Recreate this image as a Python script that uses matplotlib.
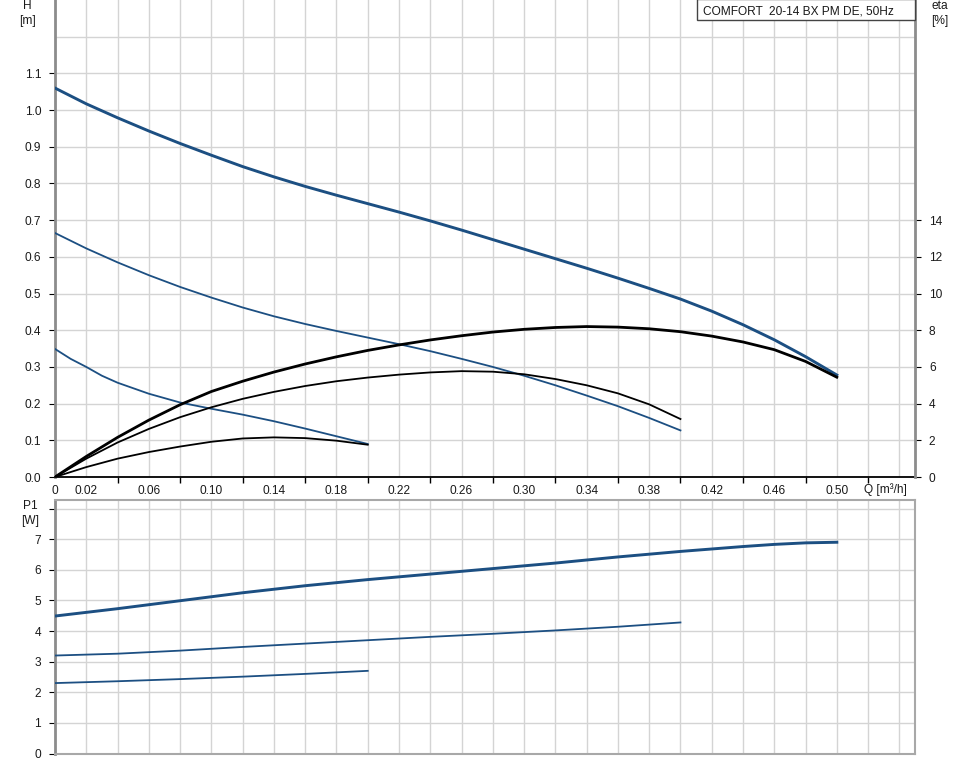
import numpy as np
import matplotlib
matplotlib.use("Agg")
import matplotlib.pyplot as plt
from matplotlib.patches import Rectangle

plt.rcParams['font.family'] = ['Liberation Sans', 'DejaVu Sans']

# ---------------- data ----------------
q_h1 = [0.00, 0.02, 0.04, 0.06, 0.08, 0.10, 0.12, 0.14, 0.16, 0.18, 0.20, 0.22, 0.24,
        0.26, 0.28, 0.30, 0.32, 0.34, 0.36, 0.38, 0.40, 0.42, 0.44, 0.46, 0.48, 0.50]
h1 = [1.060, 1.017, 0.979, 0.943, 0.909, 0.877, 0.846, 0.818, 0.792, 0.768, 0.745, 0.722, 0.698,
      0.673, 0.647, 0.621, 0.595, 0.569, 0.542, 0.514, 0.485, 0.452, 0.415, 0.374, 0.328, 0.278]
eta1 = [0.0, 1.12, 2.16, 3.1, 3.94, 4.66, 5.22, 5.72, 6.16, 6.55, 6.9, 7.2, 7.47,
        7.7, 7.9, 8.05, 8.15, 8.2, 8.17, 8.08, 7.92, 7.68, 7.36, 6.94, 6.3, 5.44]

q_h2 = [0.00, 0.02, 0.04, 0.06, 0.08, 0.10, 0.12, 0.14, 0.16, 0.18, 0.20,
        0.22, 0.24, 0.26, 0.28, 0.30, 0.32, 0.34, 0.36, 0.38, 0.40]
h2 = [0.665, 0.623, 0.585, 0.550, 0.518, 0.489, 0.462, 0.438, 0.417, 0.398, 0.380,
      0.362, 0.343, 0.322, 0.300, 0.276, 0.250, 0.222, 0.193, 0.161, 0.127]
eta2 = [0.0, 1.0, 1.88, 2.62, 3.26, 3.8, 4.26, 4.64, 4.96, 5.22, 5.42,
        5.58, 5.7, 5.77, 5.74, 5.6, 5.34, 5.0, 4.56, 3.96, 3.16]

q_h3 = [0.00, 0.01, 0.02, 0.03, 0.04, 0.06, 0.08, 0.10, 0.12, 0.14, 0.16, 0.18, 0.20]
h3 = [0.349, 0.322, 0.300, 0.276, 0.257, 0.227, 0.203, 0.186, 0.170, 0.152, 0.132, 0.111, 0.090]
q_e3 = [0.00, 0.02, 0.04, 0.06, 0.08, 0.10, 0.12, 0.14, 0.16, 0.18, 0.20]
eta3 = [0.0, 0.54, 1.0, 1.36, 1.66, 1.92, 2.1, 2.16, 2.12, 1.98, 1.76]

q_p1 = [0.00, 0.04, 0.08, 0.12, 0.16, 0.20, 0.24, 0.28, 0.32, 0.36, 0.40, 0.44, 0.46, 0.48, 0.50]
p1 = [4.49, 4.73, 4.99, 5.25, 5.48, 5.68, 5.86, 6.04, 6.22, 6.42, 6.60, 6.76, 6.83, 6.88, 6.90]
q_p2 = [0.00, 0.04, 0.08, 0.12, 0.16, 0.20, 0.24, 0.28, 0.32, 0.36, 0.40]
p2 = [3.20, 3.26, 3.36, 3.48, 3.59, 3.70, 3.81, 3.91, 4.02, 4.14, 4.28]
q_p3 = [0.00, 0.04, 0.08, 0.12, 0.16, 0.20]
p3 = [2.30, 2.36, 2.43, 2.51, 2.60, 2.70]

x_labels = ['0', '0.02', '0.06', '0.10', '0.14', '0.18', '0.22', '0.26', '0.30',
            '0.34', '0.38', '0.42', '0.46', '0.50']
title_text = 'COMFORT  20-14 BX PM DE, 50Hz'

# ---------------- styles ----------------
BLUE = '#1c4f82'
GRID = '#d4d4d4'
SPINE = '#8c8c8c'
FS = 8.6
W, H = 968, 764

fig = plt.figure(figsize=(W / 100, H / 100), dpi=100)
ax = fig.add_axes([55 / W, 1 - 477 / H, 860 / W, 477 / H])
ax2 = ax.twinx()
axb = fig.add_axes([55 / W, 1 - 753.5 / H, 860 / W, 253.5 / H])

# ---- top panel ----
ax.set_xlim(0, 0.55)
ax.set_ylim(0, 1.3)
ax2.set_ylim(0, 26)

major_x = np.round(np.arange(0.04, 0.53, 0.04), 2)
minor_x = [0, 0.02] + list(np.round(np.arange(0.06, 0.51, 0.04), 2)) + [0.54]
ax.set_xticks(major_x)
ax.set_xticklabels([''] * len(major_x))
ax.set_xticks(minor_x, minor=True)
ax.set_xticklabels(x_labels + [''], minor=True)
ax.tick_params(axis='x', which='major', length=4, direction='out', color='black', width=1)
ax.tick_params(axis='x', which='minor', length=0, pad=6, labelsize=FS, labelcolor='#1a1a1a')

ax.set_yticks(np.round(np.arange(0, 1.11, 0.1), 1))
ax.set_yticklabels([f'{v:.1f}' for v in np.arange(0, 1.11, 0.1)])
ax.set_yticks([1.2], minor=True)
ax.tick_params(axis='y', which='major', length=4, direction='out', labelsize=FS, pad=6,
               labelcolor='#1a1a1a')
ax.tick_params(axis='y', which='minor', length=0)
ax.grid(True, which='both', color=GRID, lw=1.0)
ax.set_axisbelow(True)

ax2.set_yticks(np.arange(0, 15, 2))
ax2.tick_params(axis='y', length=4, direction='out', labelsize=FS, pad=6, labelcolor='#1a1a1a')

for a in (ax, ax2):
    a.spines['top'].set_visible(False)
ax.spines['left'].set_color(SPINE)
ax.spines['left'].set_linewidth(2)
ax.spines['bottom'].set_color('black')
ax.spines['bottom'].set_linewidth(1.3)
ax.spines['right'].set_visible(False)
ax2.spines['left'].set_visible(False)
ax2.spines['bottom'].set_visible(False)
ax2.spines['right'].set_color(SPINE)
ax2.spines['right'].set_linewidth(2)

ax.plot(q_h1, h1, color=BLUE, lw=2.1, zorder=3)
ax.plot(q_h2, h2, color=BLUE, lw=1.3, zorder=3)
ax.plot(q_h3, h3, color=BLUE, lw=1.3, zorder=3)
ax2.plot(q_h1, eta1, color='black', lw=2.0, zorder=3)
ax2.plot(q_h2, eta2, color='black', lw=1.3, zorder=3)
ax2.plot(q_e3, eta3, color='black', lw=1.3, zorder=3)

ax.text(0.531, -13 / 477 * 1.3, 'Q [m³/h]', ha='center', va='center', fontsize=FS,
        color='#1a1a1a', transform=ax.transData, clip_on=False)

# ---- bottom panel ----
axb.set_xlim(0, 0.55)
axb.set_ylim(0, 8.28)
axb.set_xticks(np.round(np.arange(0.02, 0.55, 0.02), 2))
axb.set_xticklabels([])
axb.tick_params(axis='x', length=0)
axb.set_yticks(np.arange(0, 9, 1))
axb.set_yticklabels([str(i) for i in range(8)] + [''])
axb.tick_params(axis='y', length=4, direction='out', labelsize=FS, pad=6, labelcolor='#1a1a1a')
axb.grid(True, color=GRID, lw=1.0)
axb.set_axisbelow(True)
for s in axb.spines.values():
    s.set_color('#a8a8a8')
    s.set_linewidth(1.5)
axb.spines['left'].set_color(SPINE)
axb.spines['left'].set_linewidth(2)

axb.plot(q_p1, p1, color=BLUE, lw=2.1, zorder=3)
axb.plot(q_p2, p2, color=BLUE, lw=1.3, zorder=3)
axb.plot(q_p3, p3, color=BLUE, lw=1.3, zorder=3)

# ---- labels ----
def ftxt(x, y, s, **kw):
    fig.text(x / W, 1 - y / H, s, fontsize=FS, ha='center', va='center', color='#1a1a1a', **kw)

ftxt(27, 6, 'H')
ftxt(27, 21, '[m]')
ftxt(940, 6, 'eta')
ftxt(940, 21, '[%]')
ftxt(30, 506, 'P1')
ftxt(30, 521, '[W]')

rect = Rectangle((697 / W, 1 - 20 / H), 218 / W, 21 / H, transform=fig.transFigure,
                 facecolor='white', edgecolor='#444444', lw=1.0, zorder=10)
fig.add_artist(rect)
fig.text(703 / W, 1 - 11 / H, title_text, fontsize=FS, ha='left', va='center', zorder=11,
         color='#1a1a1a')

fig.savefig('out.png', dpi=100)
